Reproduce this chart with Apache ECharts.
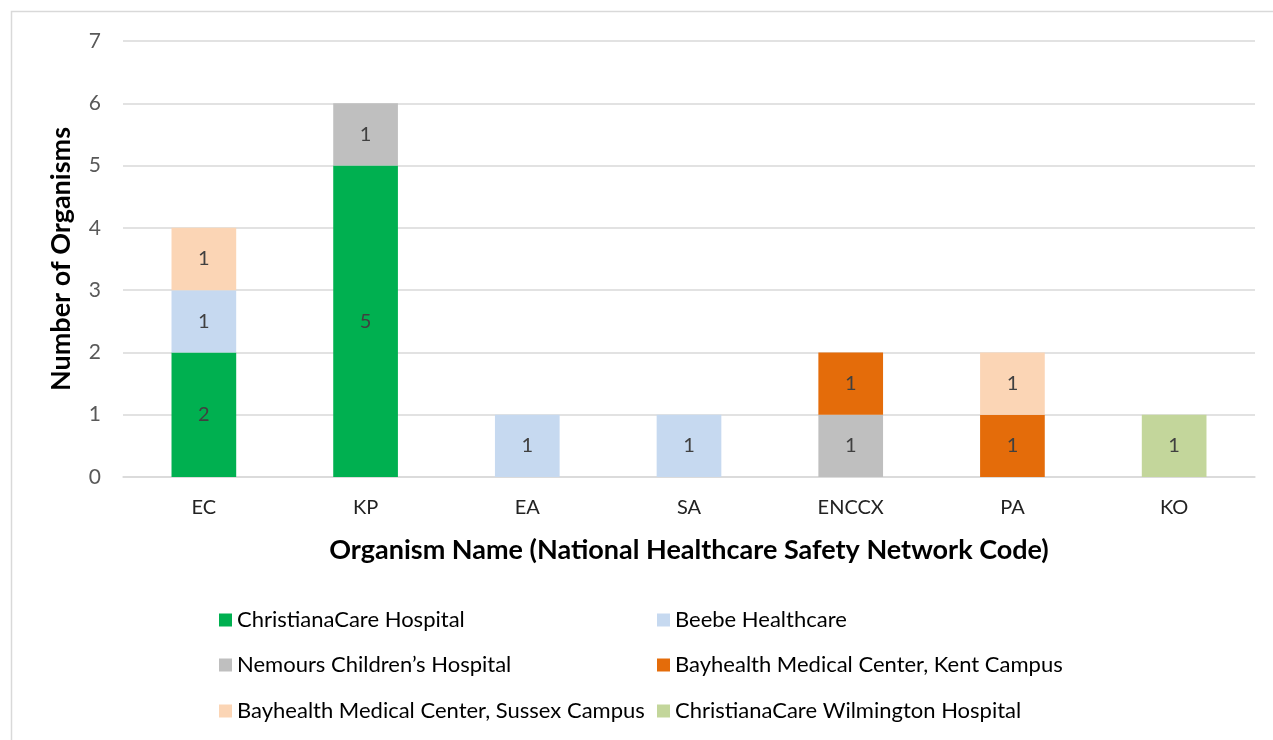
<!DOCTYPE html>
<html><head><meta charset="utf-8">
<script src="https://cdn.jsdelivr.net/npm/echarts@6/dist/echarts.min.js"></script>
<style>html,body{margin:0;padding:0;background:#fff}#c{width:1273px;height:740px}</style>
</head><body><div id="c"></div>
<script>
const categories = ['EC','KP','EA','SA','ENCCX','PA','KO'];
const seriesNames = ['ChristianaCare Hospital','Nemours Children\u2019s Hospital','Bayhealth Medical Center, Kent Campus','Beebe Healthcare','Bayhealth Medical Center, Sussex Campus','ChristianaCare Wilmington Hospital'];
const christianaCare = [2,5,null,null,null,null,null];
const nemours        = [null,1,null,null,1,null,null];
const bayhealthKent  = [null,null,null,null,1,1,null];
const beebe          = [1,null,1,1,null,null,null];
const bayhealthSussex= [1,null,null,null,null,1,null];
const wilmington     = [null,null,null,null,null,null,1];
const yTicks = [0,1,2,3,4,5,6,7];
const seriesValues = [christianaCare,nemours,bayhealthKent,beebe,bayhealthSussex,wilmington];
const colors = ['#00B050','#BFBFBF','#E46C0A','#C6D9F0','#FBD5B5','#C3D69B'];

const FONT = 'Lato, "Noto Sans", sans-serif';
const legendLayout = [
  {name: seriesNames[0], left: 219, top: 609},
  {name: seriesNames[3], left: 657, top: 609},
  {name: seriesNames[1], left: 219, top: 654},
  {name: seriesNames[2], left: 657, top: 654},
  {name: seriesNames[4], left: 219, top: 700},
  {name: seriesNames[5], left: 657, top: 700}
];

const chart = echarts.init(document.getElementById('c'));
chart.setOption({
  animation: false,
  backgroundColor: '#fff',
  textStyle: {fontFamily: FONT},
  graphic: [{type:'rect', shape:{x:11.5,y:11.5,width:1280,height:760}, style:{fill:'none', stroke:'#D9D9D9', lineWidth:1.5}, silent:true}],
  legend: legendLayout.map(l => ({
    data: [l.name], left: l.left, top: l.top, itemWidth: 13, itemHeight: 13, itemGap: 0,
    padding: 0, icon: 'rect', selectedMode: false,
    textStyle: {fontSize: 22, color: '#000', fontFamily: FONT}
  })),
  grid: {left: 123, right: 18, top: 41, bottom: 263},
  xAxis: {
    type: 'category', data: categories,
    axisLine: {lineStyle: {color: '#D9D9D9', width: 1.5}},
    axisTick: {show: false},
    axisLabel: {fontSize: 20, color: '#222', margin: 21, fontFamily: FONT},
    name: 'Organism Name (National Healthcare Safety Network Code)',
    nameLocation: 'middle', nameGap: 60,
    nameTextStyle: {fontSize: 27, fontWeight: 'bold', color: '#000', fontFamily: FONT}
  },
  yAxis: {
    type: 'value', min: 0, max: 7, interval: 1,
    axisLine: {show: false}, axisTick: {show: false},
    splitLine: {lineStyle: {color: '#D9D9D9', width: 1.5}},
    axisLabel: {fontSize: 21, color: '#595959', margin: 22, fontFamily: FONT,
      formatter: v => yTicks.includes(v) ? String(v) : ''},
    name: 'Number of Organisms', nameLocation: 'middle', nameGap: 48,
    nameTextStyle: {fontSize: 27, fontWeight: 'bold', color: '#000', fontFamily: FONT}
  },
  series: seriesNames.map((n, i) => ({
    name: n, type: 'bar', stack: 'total', data: seriesValues[i],
    barWidth: '40%', itemStyle: {color: colors[i]},
    label: {show: true, position: 'inside', fontSize: 20, color: '#404040', fontFamily: FONT}
  }))
});
</script></body></html>
